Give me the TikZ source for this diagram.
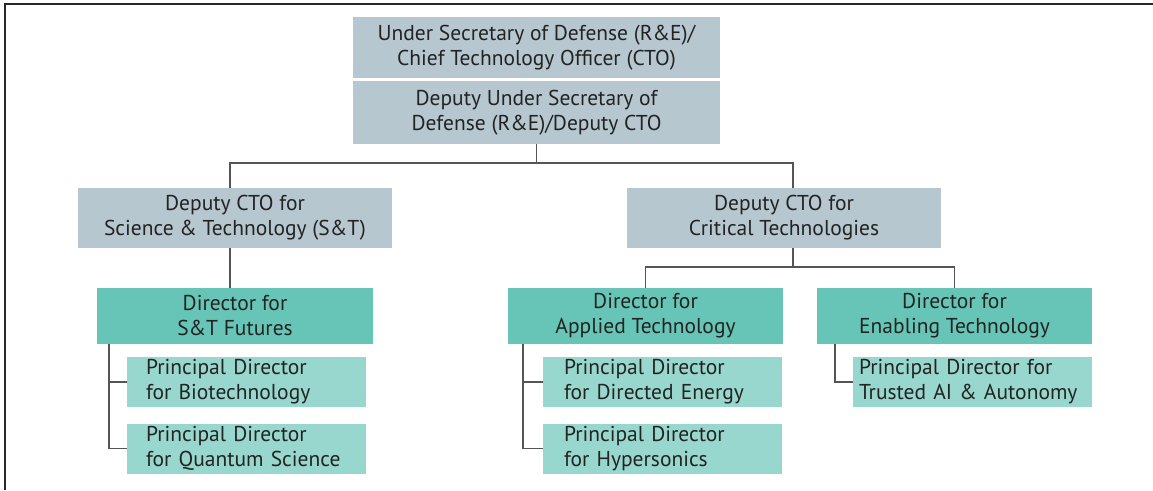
\documentclass[tikz,border=0pt]{standalone}
\usepackage{fontspec}
\setmainfont{PT Sans}
\definecolor{gbox}{RGB}{182,199,208}
\definecolor{dbox}{RGB}{102,197,182}
\definecolor{pbox}{RGB}{152,215,205}
\definecolor{txt}{RGB}{35,35,35}
\definecolor{lineg}{RGB}{85,85,85}
\definecolor{frame}{RGB}{40,40,40}
\begin{document}
\begin{tikzpicture}[x=1pt,y=-1pt,
  box/.style={rectangle, inner sep=0pt, align=center, text=txt,
    font=\fontsize{21.5}{25}\selectfont},
  grayb/.style={box, fill=gbox},
  dirb/.style={box, fill=dbox, minimum width=276pt, minimum height=56pt},
  prb/.style={box, fill=pbox, align=left, minimum height=50pt,
    inner xsep=#1, text width=239pt-2*#1},
  ln/.style={draw=lineg, line width=1.3pt}]
\useasboundingbox (0,0) rectangle (1153,490);
% frame
\draw[frame, line width=2pt] (5,490) -- (5,4) -- (1153,4);
% top
\node[grayb, minimum width=367pt, minimum height=61pt] (usd) at (536.5,47.5)
  {Under Secretary of Defense (R\&E)/\\Chief Technology Officer (CTO)};
\node[grayb, minimum width=367pt, minimum height=63pt] (dusd) at (536.5,112.5)
  {Deputy Under Secretary of\\Defense (R\&E)/Deputy CTO};
% deputies
\node[grayb, minimum width=314pt, minimum height=60pt] (dst) at (235,218)
  {Deputy CTO for\\Science \& Technology (S\&T)};
\node[grayb, minimum width=314pt, minimum height=60pt] (dct) at (784,218)
  {Deputy CTO for\\Critical Technologies};
% directors
\node[dirb] (fut) at (235,316) {Director for\\S\&T Futures};
\node[dirb, minimum width=275pt] (app) at (645.5,316) {Director for\\Applied Technology};
\node[dirb, minimum width=275pt] (ena) at (954.5,316) {Director for\\Enabling Technology};
% principals
\node[prb=19pt] (bio) at (246.5,382) {Principal Director\\for Biotechnology};
\node[prb=19pt] (qua) at (246.5,448.5) {Principal Director\\for Quantum Science};
\node[prb=21pt] (den) at (662.5,382) {Principal Director\\for Directed Energy};
\node[prb=21pt] (hyp) at (662.5,448.5) {Principal Director\\for Hypersonics};
\node[prb=6pt] (tai) at (972.5,382) {Principal Director for\\Trusted AI \& Autonomy};
% connector coordinates
\coordinate (busL) at (230,163);
\coordinate (busR) at (793,163);
\coordinate (bus2L) at (645.5,267);
\coordinate (bus2R) at (954.5,267);
% connectors
\draw[ln] (dusd.south) -- (dusd.south |- busL);
\draw[ln] (busL |- dst.north) -- (busL) -- (busR) -- (busR |- dct.north);
\draw[ln] (busL |- dst.south) -- (busL |- fut.north);
\draw[ln] (busR |- dct.south) -- (busR |- bus2L);
\draw[ln] (app.north) -- (bus2L) -- (bus2R) -- (ena.north);
\draw[ln] (fut.south -| 109,0) |- (bio.west);
\draw[ln] (fut.south -| 109,0) |- (qua.west);
\draw[ln] (app.south -| 523,0) |- (den.west);
\draw[ln] (app.south -| 523,0) |- (hyp.west);
\draw[ln] (ena.south -| 835,0) |- (tai.west);
\end{tikzpicture}
\end{document}
